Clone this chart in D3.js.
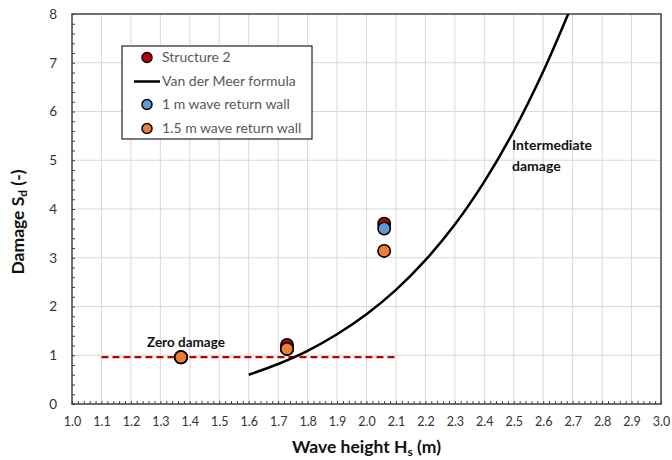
<!DOCTYPE html>
<html><head><meta charset="utf-8">
<script src="https://cdn.jsdelivr.net/npm/d3@7"></script>
<style>body{margin:0;background:#fff}svg{display:block}</style>
</head><body>
<svg id="c" width="672" height="460"></svg>
<script>
// Data
const xTicks = [1.0,1.1,1.2,1.3,1.4,1.5,1.6,1.7,1.8,1.9,2.0,2.1,2.2,2.3,2.4,2.5,2.6,2.7,2.8,2.9,3.0];
const yTicks = [0,1,2,3,4,5,6,7,8];
const vdmHs = [1.6,1.7,1.8,1.9,2.0,2.1,2.2,2.3,2.4,2.5,2.6,2.7];
const vdmSd = [0.60,0.82,1.09,1.43,1.84,2.34,2.95,3.68,4.56,5.60,6.82,8.22];
const structHs = [1.37,1.73,2.06];
const structSd = [0.96,1.21,3.70];
const wall1Hs = [1.37,1.73,2.06];
const wall1Sd = [0.96,1.13,3.60];
const wall15Hs = [1.37,1.73,2.06];
const wall15Sd = [0.96,1.13,3.14];
const zeroLineHs = [1.1,2.1];
const zeroLineSd = [0.96,0.96];
const legendLabels = ["Structure 2","Van der Meer formula","1 m wave return wall","1.5 m wave return wall"];
const colors = {red:"#c00000", blue:"#5b9bd5", orange:"#ed7d31"};

const svg = d3.select("#c");
const L=72, R=661, T=14, B=404;
const x = d3.scaleLinear().domain([1,3]).range([L,R]);
const y = d3.scaleLinear().domain([0,8]).range([B,T]);
const font = "Lato, 'Open Sans', sans-serif";

// grid
const g = svg.append("g");
g.selectAll(".vg").data(xTicks.slice(1,-1)).join("line")
  .attr("x1",d=>x(d)).attr("x2",d=>x(d)).attr("y1",T).attr("y2",B)
  .attr("stroke","#d9d9d9").attr("stroke-width",1);
g.selectAll(".hg").data(yTicks.slice(1,-1)).join("line")
  .attr("x1",L).attr("x2",R).attr("y1",d=>y(d)).attr("y2",d=>y(d))
  .attr("stroke","#d9d9d9").attr("stroke-width",1);

// minor ticks via axes
const xMinor = d3.range(0,101).map(i=>1+i*0.02);
const yMinor = d3.range(0,41).map(i=>i*0.2);
svg.append("g").attr("transform",`translate(0,${B})`)
  .call(d3.axisTop(x).tickValues(xMinor).tickSize(3).tickFormat(""))
  .call(s=>{s.select(".domain").remove();s.selectAll("line").attr("stroke","#404040");});
svg.append("g").attr("transform",`translate(${L},0)`)
  .call(d3.axisRight(y).tickValues(yMinor).tickSize(3).tickFormat(""))
  .call(s=>{s.select(".domain").remove();s.selectAll("line").attr("stroke","#404040");});

// major axes
svg.append("g").attr("transform",`translate(0,${B})`)
  .call(d3.axisBottom(x).tickValues(xTicks).tickSize(0).tickPadding(13).tickFormat(d3.format(".1f")))
  .call(s=>{s.select(".domain").remove();
    s.selectAll("text").attr("font-family",font).attr("font-size",12.5).attr("fill","#333");});
svg.append("g").attr("transform",`translate(${L},0)`)
  .call(d3.axisLeft(y).tickValues(yTicks).tickSize(0).tickPadding(15).tickFormat(d3.format("d")))
  .call(s=>{s.select(".domain").remove();
    s.selectAll("text").attr("font-family",font).attr("font-size",13.5).attr("fill","#333");});

// frame
svg.append("rect").attr("x",L).attr("y",T).attr("width",R-L).attr("height",B-T)
  .attr("fill","none").attr("stroke","#404040").attr("stroke-width",1.5);

// clip
svg.append("clipPath").attr("id","clip").append("rect").attr("x",L).attr("y",T).attr("width",R-L).attr("height",B-T);

// zero damage line
svg.append("path").datum(zeroLineHs.map((h,i)=>[h,zeroLineSd[i]]))
  .attr("d",d3.line().x(d=>x(d[0])).y(d=>y(d[1])))
  .attr("stroke",colors.red).attr("stroke-width",2.2).attr("stroke-dasharray","7,4").attr("fill","none");

// VdM curve
svg.append("path").datum(vdmHs.map((h,i)=>[h,vdmSd[i]]))
  .attr("clip-path","url(#clip)")
  .attr("d",d3.line().x(d=>x(d[0])).y(d=>y(d[1])).curve(d3.curveCatmullRom))
  .attr("stroke","#000").attr("stroke-width",2.5).attr("fill","none");

// points
function pts(hs,sd,col){
  svg.append("g").selectAll("circle").data(hs.map((h,i)=>[h,sd[i]])).join("circle")
    .attr("cx",d=>x(d[0])).attr("cy",d=>y(d[1])).attr("r",6.2)
    .attr("fill",col).attr("stroke","#000").attr("stroke-width",1.6);
}
pts(structHs,structSd,colors.red);
pts(wall1Hs,wall1Sd,colors.blue);
pts(wall15Hs,wall15Sd,colors.orange);

// annotations
svg.append("text").attr("x",147).attr("y",347).text("Zero damage")
  .attr("font-family",font).attr("font-weight","bold").attr("font-size",13.5).attr("fill","#111");
const ann = svg.append("text").attr("font-family",font).attr("font-weight","bold").attr("font-size",14).attr("fill","#111");
ann.append("tspan").attr("x",512).attr("y",150).text("Intermediate");
ann.append("tspan").attr("x",512).attr("y",171).text("damage");

// legend
const lg = svg.append("g");
lg.append("rect").attr("x",122).attr("y",46).attr("width",190).attr("height",93)
  .attr("fill","#fff").attr("stroke","#222").attr("stroke-width",1.2);
const rows=[57.5,81.5,104.5,128.5];
const lcol=[colors.red,null,colors.blue,colors.orange];
rows.forEach((ry,i)=>{
  if(lcol[i]) lg.append("circle").attr("cx",147).attr("cy",ry).attr("r",5)
      .attr("fill",lcol[i]).attr("stroke","#000").attr("stroke-width",1.5);
  else lg.append("line").attr("x1",134).attr("x2",160).attr("y1",ry).attr("y2",ry)
      .attr("stroke","#000").attr("stroke-width",2.5);
  lg.append("text").attr("x",162).attr("y",ry).attr("dy","0.35em").text(legendLabels[i])
    .attr("font-family",font).attr("font-size",14).attr("fill","#595959");
});

// axis titles
const xt = svg.append("text").attr("x",(L+R)/2).attr("y",453).attr("text-anchor","middle")
  .attr("font-family",font).attr("font-weight","bold").attr("font-size",17.5).attr("fill","#111");
xt.append("tspan").text("Wave height H");
xt.append("tspan").text("s").attr("font-size",12).attr("dy",3);
xt.append("tspan").text(" (m)").attr("dy",-3);
const yt = svg.append("text").attr("transform",`translate(24,222) rotate(-90)`).attr("text-anchor","middle")
  .attr("font-family",font).attr("font-weight","bold").attr("font-size",17.5).attr("fill","#111");
yt.append("tspan").text("Damage S");
yt.append("tspan").text("d").attr("font-size",12).attr("dy",3);
yt.append("tspan").text(" (-)").attr("dy",-3);
</script>
</body></html>
